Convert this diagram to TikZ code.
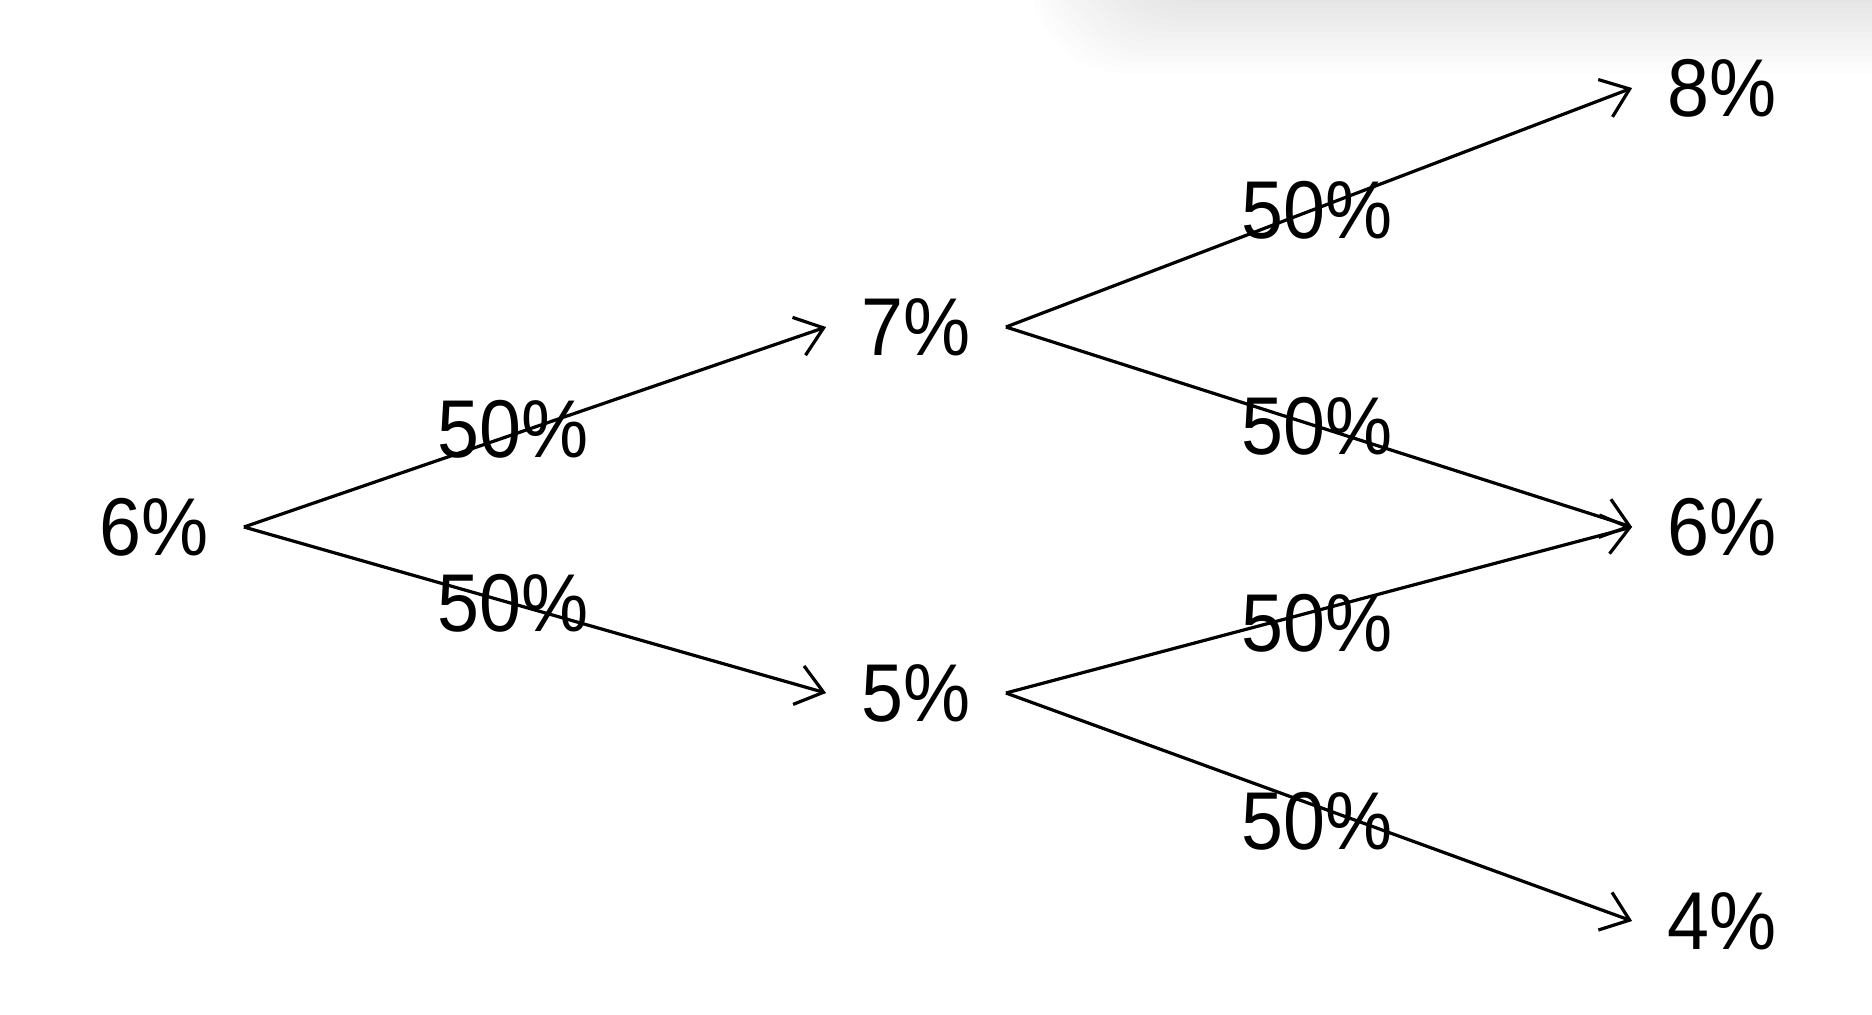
\documentclass[tikz,border=0pt]{standalone}
\usepackage{fontspec}
\setmainfont{Liberation Sans}
\usetikzlibrary{arrows.meta}
\newcommand\hsq[1]{\scalebox{0.92}[1]{#1}}
\tikzset{
  val/.style={font=\fontsize{41}{41}\selectfont, inner xsep=17.5pt, inner ysep=0pt},
  lbl/.style={font=\fontsize{41}{41}\selectfont, inner sep=0pt},
  branch/.style={line width=1.6pt, -{Straight Barb[length=13pt,width=20pt,line width=1.6pt]}},
}
\begin{document}
\begin{tikzpicture}[x=0.5pt,y=-0.5pt]
\useasboundingbox (0,0) rectangle (1872,1014);
\fill[white] (0,0) rectangle (1872,1014);
% soft shadow at top right
\foreach \i in {0,...,13}
  \fill[black, opacity=0.007, rounded corners=50pt] ({1030+6*\i}, -200) rectangle (2000, {74-6*\i});
% value nodes
\node[val] (a) at (154,527) {\hsq{6\%}};
\node[val] (b) at (916,327) {\hsq{7\%}};
\node[val] (c) at (916,693) {\hsq{5\%}};
\node[val] (d) at (1722,88) {\hsq{8\%}};
\node[val] (e) at (1722,527) {\hsq{6\%}};
\node[val] (f) at (1722,921) {\hsq{4\%}};
% connectors
\draw[branch] (a.east) -- (b.west);
\draw[branch] (a.east) -- (c.west);
\draw[branch] (b.east) -- (d.west);
\draw[branch] (b.east) -- (e.west);
\draw[branch] (c.east) -- (e.west);
\draw[branch] (c.east) -- (f.west);
% probability labels
\node[lbl] (p1) at (513,429) {\hsq{50\%}};
\node[lbl] (p2) at (513,603) {\hsq{50\%}};
\node[lbl] (p3) at (1317,210) {\hsq{50\%}};
\node[lbl] (p4) at (1317,426) {\hsq{50\%}};
\node[lbl] (p5) at (1317,623) {\hsq{50\%}};
\node[lbl] (p6) at (1317,821) {\hsq{50\%}};
\end{tikzpicture}
\end{document}
